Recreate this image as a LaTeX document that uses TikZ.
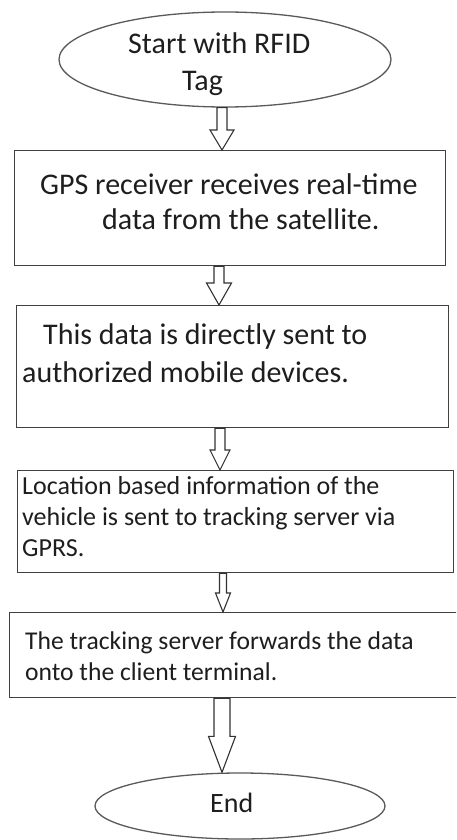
\documentclass[tikz,border=0pt]{standalone}
\usepackage{fontspec}
\setmainfont{Carlito}
\usetikzlibrary{shapes.geometric}
\definecolor{boxgray}{HTML}{404040}
\definecolor{ovalgray}{HTML}{5A5A5A}
\definecolor{arrgray}{HTML}{333333}
\definecolor{txtcol}{HTML}{1E1E1E}
\newcommand{\fBig}{\fontsize{30}{36}\selectfont}
\newcommand{\fMid}{\fontsize{26}{31}\selectfont}
\newcommand{\fSml}{\fontsize{25.6}{31}\selectfont}
\newcommand{\fEnd}{\fontsize{28}{34}\selectfont}
\newcommand{\blockconn}[6]{%
  \draw[blockarr] ([xshift=-#4pt]#3 |- #1.south)
    -- ([xshift=-#4pt,yshift=#6pt]#3 |- #2.north)
    -- ([xshift=-#5pt,yshift=#6pt]#3 |- #2.north)
    -- (#3 |- #2.north)
    -- ([xshift=#5pt,yshift=#6pt]#3 |- #2.north)
    -- ([xshift=#4pt,yshift=#6pt]#3 |- #2.north)
    -- ([xshift=#4pt]#3 |- #1.south) -- cycle;}
\tikzset{
  boxst/.style={draw=boxgray, line width=1.4pt, rectangle, inner sep=0pt, anchor=north west},
  ovalst/.style={draw=ovalgray, line width=1.3pt, ellipse, inner sep=0pt},
  txt/.style={inner sep=0pt, anchor=base west, text=txtcol},
  blockarr/.style={draw=arrgray, line width=1.1pt, fill=white, line join=miter},
}
\begin{document}
\begin{tikzpicture}[x=1pt, y=-1pt]
\useasboundingbox (0,0) rectangle (456,840);
\clip (0,0) rectangle (456,840);
\fill[white] (0,0) rectangle (456,840);

% shapes
\node[ovalst, minimum width=332pt, minimum height=95pt] (e1) at (225,59.5) {};
\node[boxst, minimum width=431pt, minimum height=115pt] (b1) at (14,150) {};
\node[boxst, minimum width=432pt, minimum height=122pt] (b2) at (16,305) {};
\node[boxst, minimum width=436pt, minimum height=102pt] (b3) at (17,470) {};
\node[boxst, minimum width=449pt, minimum height=85pt] (b4) at (9,612) {};
\node[ovalst, minimum width=290pt, minimum height=66pt] (e2) at (240,806) {};

% texts
\node[txt, font=\fBig] (s1) at (128,54) {Start with RFID};
\node[txt, font=\fBig] (s2) at (182,91) {Tag};
\node[txt, font=\fBig] (g1) at (40,194) {GPS receiver receives real-time};
\node[txt, font=\fBig] (g2) at (102,229) {data from the satellite.};
\node[txt, font=\fBig] (d1) at (43,344) {This data is directly sent to};
\node[txt, font=\fBig] (d2) at (22,382) {authorized mobile devices.};
\node[txt, font=\fMid] (l1) at (22,494) {Location based information of the};
\node[txt, font=\fMid] (l2) at (22,525) {vehicle is sent to tracking server via};
\node[txt, font=\fMid] (l3) at (22,556) {GPRS.};
\node[txt, font=\fSml] (f1) at (25,649) {The tracking server forwards the data};
\node[txt, font=\fSml] (f2) at (25,680) {onto the client terminal.};
\node[txt, font=\fEnd] (en) at (210,812) {End};

% arrow axes
\coordinate (a1) at (222,0);
\coordinate (a2) at (219,0);
\coordinate (a3) at (220,0);
\coordinate (a4) at (223,0);
\coordinate (a5) at (222,0);

% block arrows
\blockconn{e1}{b1}{a1}{5}{12}{20}
\blockconn{b1}{b2}{a2}{5}{12.5}{22}
\blockconn{b2}{b3}{a3}{5}{10}{20}
\blockconn{b3}{b4}{a4}{3.5}{7.5}{19}
\blockconn{b4}{e2}{a5}{8}{13.5}{36}
\end{tikzpicture}
\end{document}
